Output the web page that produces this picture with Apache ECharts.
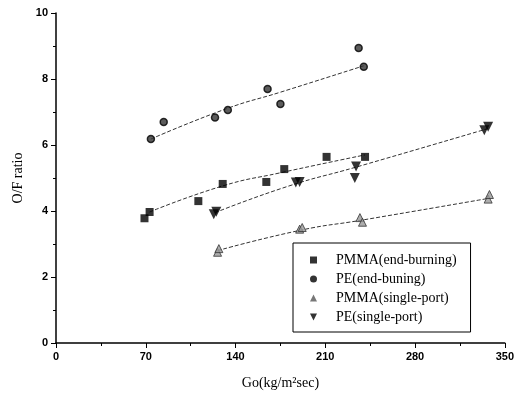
<!DOCTYPE html>
<html>
<head>
<meta charset="utf-8">
<script src="https://cdn.jsdelivr.net/npm/echarts@6/dist/echarts.min.js"></script>
<style>
  html, body { margin: 0; padding: 0; background: #fff; }
  #chart { width: 517px; height: 397px; }
</style>
</head>
<body>
<div id="chart"></div>
<script>
// measured points [Go, O/F]
const pmmaEnd = [[69, 3.78], [73, 3.97], [111, 4.3], [130, 4.82], [164, 4.88], [178, 5.27], [211, 5.64], [241, 5.64]];
const peEnd = [[74, 6.18], [84, 6.7], [124, 6.83], [134, 7.06], [165, 7.7], [175, 7.24], [236, 8.94], [240, 8.37]];
const pmmaSingle = [[126, 2.75], [127, 2.86], [190, 3.45], [192, 3.5], [237, 3.8], [239, 3.66], [337, 4.36], [338, 4.5]];
const peSingle = [[123, 3.9], [125, 3.98], [187, 4.86], [190, 4.88], [234, 5.35], [233, 5.0], [334, 6.45], [337, 6.55]];

// dashed fit curves
const pmmaEndFit = [[73, 3.97], [130, 4.76], [174, 5.15], [241, 5.7]];
const peEndFit = [[74, 6.18], [133, 7.1], [175, 7.6], [240, 8.4]];
const pmmaSingleFit = [[126, 2.8], [191, 3.42], [238, 3.72], [337, 4.38]];
const peSingleFit = [[124, 3.95], [181, 4.75], [234, 5.33], [337, 6.5]];

const legendNames = ["PMMA(end-burning)", "PE(end-buning)", "PMMA(single-port)", "PE(single-port)"];

const chart = echarts.init(document.getElementById("chart"));

const axisFont = { color: "#000", fontFamily: "Liberation Sans", fontWeight: "bold", fontSize: 11 };
const downTri = "path://M0,0L10,0L5,10Z";

function fitLine(data) {
    return {
        type: "line",
        data: data,
        smooth: true,
        showSymbol: false,
        silent: true,
        lineStyle: { color: "#333", width: 1, type: [4, 2] },
        z: 1,
    };
}

const option = {
    animation: false,
    grid: { left: 56, right: 10, top: 13, bottom: 54 },
    xAxis: {
        type: "value",
        min: 0,
        max: 350,
        interval: 70,
        name: "Go(kg/m\u00b2sec)",
        nameLocation: "middle",
        nameGap: 33,
        nameTextStyle: { color: "#000", fontFamily: "Liberation Serif", fontSize: 14 },
        axisLine: { lineStyle: { color: "#000", width: 1.5 } },
        axisTick: { lineStyle: { color: "#000" }, length: 5 },
        minorTick: { show: true, splitNumber: 2, length: 3, lineStyle: { color: "#000" } },
        splitLine: { show: false },
        axisLabel: axisFont,
    },
    yAxis: {
        type: "value",
        min: 0,
        max: 10,
        interval: 2,
        name: "O/F ratio",
        nameLocation: "middle",
        nameGap: 31,
        nameTextStyle: { color: "#000", fontFamily: "Liberation Serif", fontSize: 14 },
        axisLine: { show: true, lineStyle: { color: "#000", width: 1.5 } },
        axisTick: { show: true, lineStyle: { color: "#000" }, length: 5 },
        minorTick: { show: true, splitNumber: 2, length: 3, lineStyle: { color: "#000" } },
        splitLine: { show: false },
        axisLabel: axisFont,
    },
    legend: {
        data: [
            { name: legendNames[0], icon: "rect", itemStyle: { color: "#000", borderWidth: 0 } },
            { name: legendNames[1], icon: "circle", itemStyle: { color: "#000", borderWidth: 0 } },
            { name: legendNames[2], icon: "triangle", itemStyle: { color: "#555", borderWidth: 0 } },
            { name: legendNames[3], icon: downTri, itemStyle: { color: "#000", borderWidth: 0 } },
        ],
        orient: "vertical",
        left: 293,
        top: 243,
        width: 205,
        padding: [10, 14, 8, 17],
        itemGap: 5,
        itemWidth: 7,
        itemHeight: 7,
        borderColor: "#000",
        borderWidth: 1,
        textStyle: { color: "#000", fontFamily: "Liberation Serif", fontSize: 14, padding: [0, 0, 0, 14] },
    },
    series: [
        fitLine(pmmaEndFit),
        fitLine(peEndFit),
        fitLine(pmmaSingleFit),
        fitLine(peSingleFit),
        {
            name: legendNames[0],
            type: "scatter",
            data: pmmaEnd,
            symbol: "rect",
            symbolSize: 8,
            itemStyle: { color: "#000" },
            z: 3,
        },
        {
            name: legendNames[1],
            type: "scatter",
            data: peEnd,
            symbol: "circle",
            symbolSize: 7,
            itemStyle: { color: "#333", borderColor: "#000", borderWidth: 1.5 },
            z: 3,
        },
        {
            name: legendNames[2],
            type: "scatter",
            data: pmmaSingle,
            symbol: "triangle",
            symbolSize: 8,
            itemStyle: { color: "#999", borderColor: "#333", borderWidth: 1 },
            z: 3,
        },
        {
            name: legendNames[3],
            type: "scatter",
            data: peSingle,
            symbol: downTri,
            symbolSize: 10,
            itemStyle: { color: "#000" },
            z: 3,
        },
    ],
};

chart.setOption(option);
</script>
</body>
</html>
